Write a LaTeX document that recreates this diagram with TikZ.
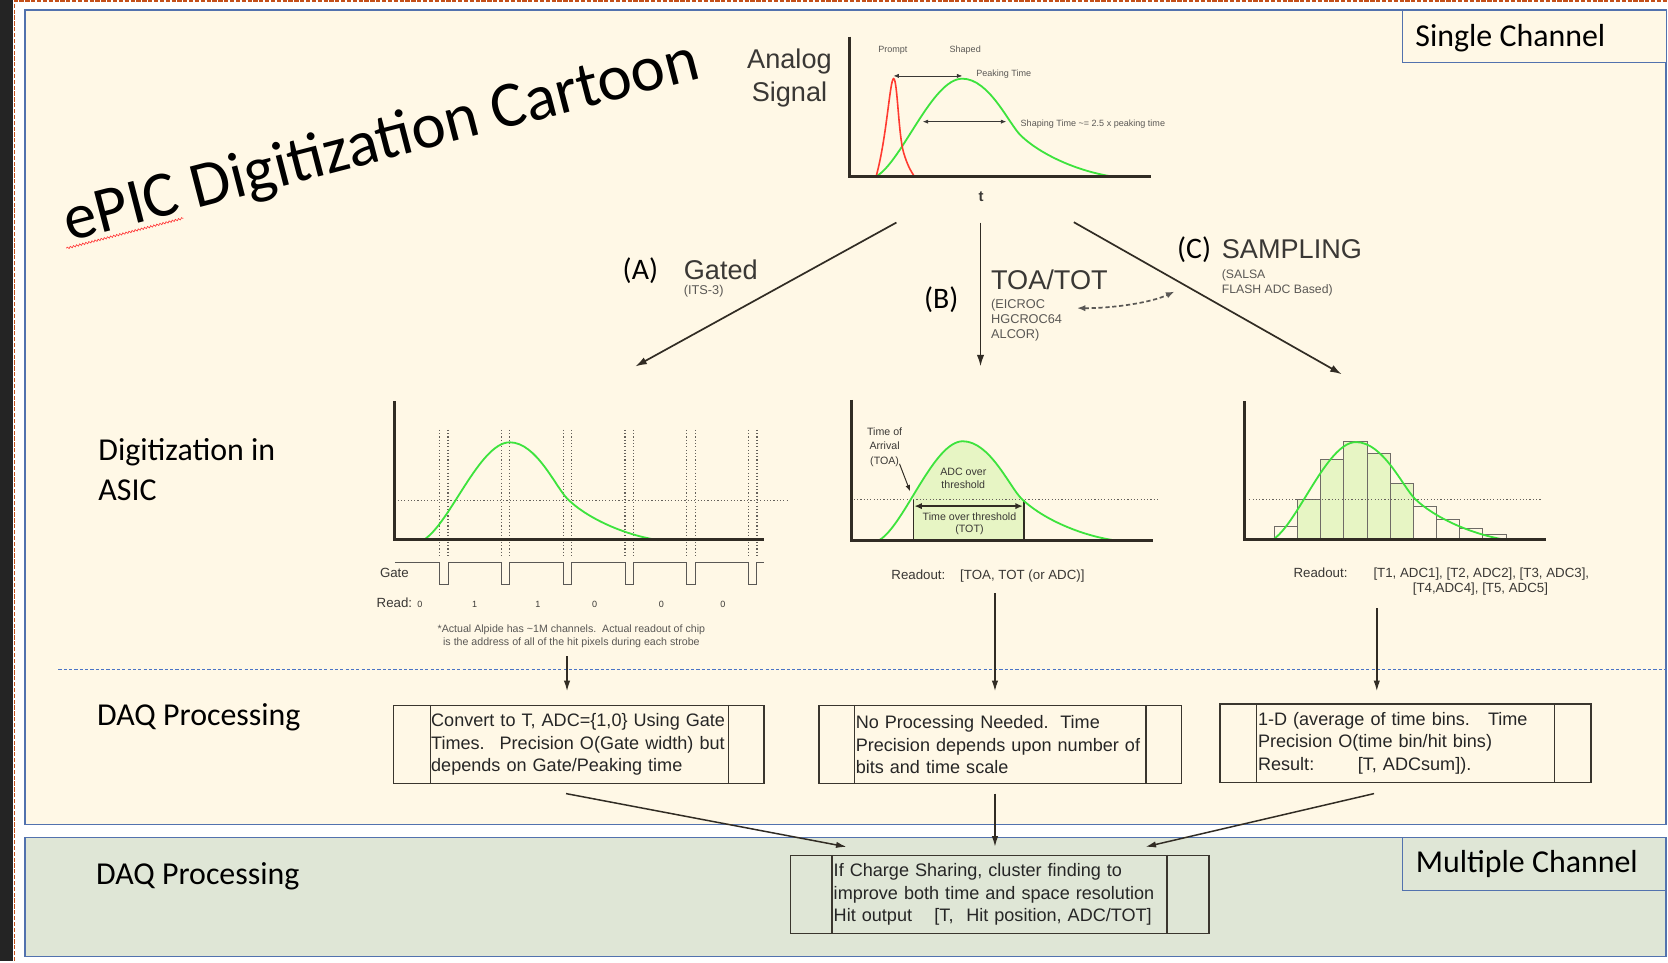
\documentclass[tikz,border=0pt]{standalone}
\usepackage{xcolor}
\usepackage{fontspec}
\setmainfont{Liberation Sans}
\newfontfamily\calibri{Carlito}
\usepackage{tikz}
\usetikzlibrary{arrows.meta,positioning,decorations.pathmorphing}

\definecolor{cream}{HTML}{FFF8E6}
\definecolor{sage}{HTML}{DFE6D6}
\definecolor{panelblue}{HTML}{5272AE}
\definecolor{sepblue}{HTML}{4A74C6}
\definecolor{selorange}{HTML}{C4501A}
\definecolor{darkstrip}{HTML}{242424}
\definecolor{ink}{HTML}{3A3835}
\definecolor{softink}{HTML}{5A5855}
\definecolor{axisdark}{HTML}{312C24}
\definecolor{pulsegreen}{HTML}{3DE33D}
\definecolor{promptred}{HTML}{FF3A30}
\definecolor{binfill}{HTML}{E7F5C4}
\definecolor{boxline}{HTML}{3A362E}

\newcommand{\pulsecurve}[5]{(#1,#4) .. controls ({#1+0.3*(#2-#1)},{#4-0.15*(#4-#5)}) and ({#1+0.65*(#2-#1)},#5) .. (#2,#5) .. controls ({#2+0.18*(#3-#2)},#5) and ({#2+0.31*(#3-#2)},{#4-0.54*(#4-#5)}) .. ({#2+0.39*(#3-#2)},{#4-0.42*(#4-#5)}) .. controls ({#2+0.51*(#3-#2)},{#4-0.24*(#4-#5)}) and ({#2+0.75*(#3-#2)},{#4-0.06*(#4-#5)}) .. (#3,#4)}

\begin{document}
\begin{tikzpicture}[x=1pt,y=-1pt,
  panel/.style={draw=panelblue,line width=1.3pt},
  tagbox/.style={draw=panelblue,line width=1pt},
  tag/.style={anchor=base west,inner sep=0pt,font=\calibri\fontsize{30}{36}\selectfont},
  rowlabel/.style={anchor=base west,inner sep=0pt,font=\calibri\fontsize{30}{36}\selectfont},
  letter/.style={anchor=base west,inner sep=0pt,font=\calibri\fontsize{28}{34}\selectfont},
  method/.style={anchor=base west,inner sep=0pt,text=ink,font=\fontsize{25.5}{31}\selectfont},
  chips/.style={anchor=base west,inner sep=0pt,text=softink,font=\fontsize{12}{14.1}\selectfont},
  axisline/.style={draw=axisdark,line width=2.6pt,line join=miter},
  thresh/.style={draw=axisdark!75,line width=1.1pt,dash pattern=on 1.1pt off 2pt},
  shaped/.style={draw=pulsegreen,line width=1.7pt},
  tinylbl/.style={inner sep=0pt,text=softink,font=\fontsize{8.5}{10}\selectfont},
  smalllbl/.style={inner sep=0pt,text=ink,font=\fontsize{10}{12}\selectfont},
  plottext/.style={anchor=base west,inner sep=0pt,text=ink,font=\fontsize{12.5}{15}\selectfont},
  thinarrow/.style={draw=ink,line width=0.6pt,{Latex[length=5pt,width=4pt]}-{Latex[length=5pt,width=4pt]}},
  bigarrow/.style={draw=axisdark,line width=1.6pt,-{Latex[length=11pt,width=7pt]}},
  downarrow/.style={draw=axisdark,line width=1.4pt,-{Latex[length=10pt,width=6pt]}},
  binline/.style={draw=axisdark!70,line width=0.8pt},
  daqbox/.style={draw=boxline,line width=1.3pt,inner sep=0pt,minimum height=73.3pt,align=left,text=black!85,font=\fontsize{17}{21.2}\selectfont},
]
\fill[white] (0,0) rectangle (1568,904);
\fill[darkstrip] (0,0) rectangle (12.5,904);
\draw[selorange,line width=1.6pt,dash pattern=on 4pt off 1.5pt] (13.6,904) -- (13.6,1.2) -- (1568,1.2);
\draw[panel,fill=cream] (23.5,9.4) rectangle (1567,775.5);
\draw[panel,fill=sage] (23.5,787.4) rectangle (1567,899.6);
\draw[sepblue,line width=0.8pt,dash pattern=on 3pt off 2pt] (55,629.2) -- (1568,629.2);

\draw[tagbox,fill=cream] (1318.8,9.4) rectangle (1567,58.6);
\node[tag] (single) at (1331,43.9) {Single Channel};
\draw[tagbox] (1319.3,787.4) rectangle (1567,837.3);
\node[tag] (multi) at (1331.4,820.3) {Multiple Channel};

\node[anchor=base west,rotate=14.5,inner sep=0pt,font=\calibri\fontsize{61}{72}\selectfont] (title) at (65,227) {ePIC Digitization Cartoon};
\draw[red!80,line width=0.6pt,decorate,decoration={snake,amplitude=0.9pt,segment length=3pt}] (62.5,233.5) -- (172.5,205.2);

\node[rowlabel] (asicA) at (92.4,433.1) {Digitization in};
\node[rowlabel] (asicB) at (92.4,470.6) {ASIC};
\node[rowlabel] (daqUp) at (91.2,682.5) {DAQ Processing};
\node[rowlabel] (daqLow) at (90.2,832) {DAQ Processing};

\node[method,anchor=base] (analog) at (742.5,64.2) {Analog};
\node[method,anchor=base] (signal) at (742.5,95.6) {Signal};
\draw[shaped] \pulsecurve{824}{905}{1046}{166}{74};
\draw[promptred,line width=1.5pt] (824,166) .. controls (834,130) and (837,74) .. (840.5,74) .. controls (844,74) and (845,128) .. (850,144) .. controls (853,154) and (856,160) .. (860,166);
\draw[axisline] (799,34.5) -- (799,166) -- (1082.6,166);
\coordinate (pkL) at (840.4,71.4);
\coordinate (pkR) at (905,71.4);
\coordinate (shL) at (868,114.4);
\coordinate (shR) at (946.3,114.4);
\draw[thinarrow] (pkL) -- (pkR);
\draw[thinarrow] (shL) -- (shR);
\node[tinylbl] (prompt) at (839.8,47.6) {Prompt};
\node[tinylbl] (shapedlbl) at (907.8,47.6) {Shaped};
\node[tinylbl,anchor=west] (peaklbl) at (918,70.2) {Peaking Time};
\node[tinylbl,anchor=west] (shapelbl) at (959.8,116.9) {Shaping Time \textasciitilde= 2.5 x peaking time};
\node[inner sep=0pt,text=ink,font=\bfseries\fontsize{14}{16}\selectfont] (tlbl) at (922.8,184.9) {t};

\coordinate (forkA) at (843.1,209.3);
\coordinate (endA) at (597.4,344.7);
\coordinate (forkB) at (922.2,209.3);
\coordinate (endB) at (922.2,344.7);
\coordinate (forkC) at (1010,209);
\coordinate (endC) at (1262,352);
\draw[bigarrow] (forkA) -- (endA);
\draw[bigarrow] (forkB) -- (endB);
\draw[bigarrow] (forkC) -- (endC);
\node[letter] (letA) at (585.5,263.2) {(A)};
\node[method] (gated) at (643,263.2) {Gated};
\node[chips] (its) at (643,277.3) {(ITS-3)};
\node[letter] (letB) at (869,289.8) {(B)};
\node[method] (toatot) at (932,272.6) {TOA/TOT};
\node[chips,align=left] (eicroc) at (932,318) {(EICROC\\HGCROC64\\ALCOR)};
\node[letter] (letC) at (1107,242.8) {(C)};
\node[method] (sampling) at (1149,243) {SAMPLING};
\node[chips,align=left,font=\fontsize{11.5}{14.1}\selectfont] (salsa) at (1149,275.7) {(SALSA\\FLASH ADC Based)};
\coordinate (dashL) at (1012.9,289.8);
\coordinate (dashR) at (1104.6,274.2);
\draw[softink,line width=1.6pt,dash pattern=on 4pt off 2.5pt,{Latex[length=8pt,width=6pt]}-{Latex[length=8pt,width=6pt]}] (dashL) .. controls (1045,290) and (1082,285) .. (dashR);

\foreach \i in {0,...,5} {
  \draw[thresh] ({413.6+58.1*\i},404.2) -- ++(0,119);
  \draw[thresh] ({421.4+58.1*\i},404.2) -- ++(0,119);
}
\draw[thresh] (374,471) -- (742.6,471);
\draw[shaped] \pulsecurve{398}{479.4}{619}{508}{416};
\draw[axisline] (371.3,377.6) -- (371.3,507.6) -- (719,507.6);
\draw[draw=softink,line width=1pt] (371.3,528.6) foreach \i in {0,...,5} { -- ({413.6+58.1*\i},528.6) -- ++(0,21.4) -- ++(7.8,0) -- ++(0,-21.4) } -- (719,528.6);
\node[plottext] (gatelbl) at (357.2,543) {Gate};
\node[plottext] (readlbl) at (354.1,571.8) {Read:};
\foreach \x/\v [count=\k] in {394.8/0,446.5/1,506/1,559.3/0,622/0,680/0}
  \node[inner sep=0pt,text=ink,anchor=base,font=\fontsize{8.5}{10}\selectfont] (rd\k) at (\x,571.8) {\v};
\node[smalllbl,text=softink,anchor=base] (alpideA) at (537.4,594.7) {*Actual Alpide has \textasciitilde 1M channels.\ \ Actual readout of chip};
\node[smalllbl,text=softink,anchor=base] (alpideB) at (537.4,607.3) {is the address of all of the hit pixels during each strobe};

\begin{scope}
  \clip (859.2,400) rectangle (962.9,507.6);
  \fill[binfill] \pulsecurve{827}{905.5}{1047}{508}{415} -- cycle;
\end{scope}
\draw[axisdark,line width=1.4pt] (859.2,470) -- (859.2,507.6) (962.9,470) -- (962.9,507.6);
\draw[axisdark,line width=1.5pt,{Latex[length=7pt,width=6pt]}-{Latex[length=7pt,width=6pt]}] (860,476) -- (962,476);
\draw[thresh] (803,470) -- (1088.8,470);
\draw[shaped] \pulsecurve{827}{905.5}{1047}{508}{415};
\draw[axisline] (800.6,376) -- (800.6,508.2) -- (1084.2,508.2);
\node[smalllbl,align=center,font=\fontsize{10}{12.5}\selectfont] (adcover) at (906,449.6) {ADC over\\threshold};
\node[smalllbl,align=center,font=\fontsize{10}{11.6}\selectfont] (totlbl) at (911.8,492.4) {Time over threshold\\(TOT)};
\node[smalllbl,align=center,font=\fontsize{10}{13.3}\selectfont] (toalbl) at (832,420.6) {Time of\\Arrival\\(TOA)};
\draw[axisdark,line width=0.9pt,-{Latex[length=6pt,width=4.5pt]}] (846,436.2) -- (856,462.2);
\node[plottext] (roB) at (838.2,544.6) {Readout:\hspace*{14pt}[TOA, TOT (or ADC)]};

\foreach \top/\col [count=\i from 0] in {495.1/cream,470/binfill,432.4/binfill,415.2/binfill,426.8/binfill,454.3/binfill,476.3/cream,488.8/cream,496.6/cream,502.9/cream}
  \draw[binline,fill=\col] ({1198.5+21.8*\i},507.6) rectangle ++(21.8,{\top-507.6});
\draw[thresh] (1175,470) -- (1450.7,470);
\draw[shaped] \pulsecurve{1196.4}{1275.3}{1417.9}{508}{415.8};
\draw[axisline] (1170.3,377.6) -- (1170.3,507.6) -- (1453.9,507.6);
\node[plottext] (roClbl) at (1216.4,542.7) {Readout:};
\node[plottext] (roCa) at (1291.6,542.7) {[T1, ADC1], [T2, ADC2], [T3, ADC3],};
\node[plottext] (roCb) at (1328.6,557.7) {[T4,ADC4], [T5, ADC5]};

\node[daqbox,minimum width=348.2pt,text width=277.7pt] (daqA) at (544.4,700.35) {Convert to T, ADC=\{1,0\} Using Gate\\Times.\hspace*{14pt}Precision O(Gate width) but\\depends on Gate/Peaking time};
\node[daqbox,minimum width=340.8pt,text width=271.7pt] (daqB) at (940.7,700.35) {No Processing Needed.\hspace*{11pt}Time\\Precision depends upon number of\\bits and time scale};
\node[daqbox,minimum width=348.7pt,minimum height=73.7pt,text width=277.5pt] (daqC) at (1321.95,698.95) {1-D (average of time bins.\hspace*{17pt}Time\\Precision O(time bin/hit bins)\\Result:\hspace*{41pt}[T, ADCsum]).};
\node[daqbox,minimum width=393.8pt,text width=312.3pt] (hitbox) at (940.3,841.35) {If Charge Sharing, cluster finding to\\improve both time and space resolution\\Hit output\hspace*{21pt}[T,\hspace*{12pt}Hit position, ADC/TOT]};
\foreach \b/\l/\r in {daqA/35/34.1,daqB/33.8/33.8,daqC/34.9/34.8,hitbox/39.8/40.1} {
  \draw[boxline,line width=1.3pt] ([xshift=\l pt]\b.north west) -- ([xshift=\l pt]\b.south west);
  \draw[boxline,line width=1.3pt] ([xshift=-\r pt]\b.north east) -- ([xshift=-\r pt]\b.south east);
}

\coordinate (roAout) at (533.3,617);
\coordinate (inA) at (533.3,650.2);
\coordinate (roBout) at (935.8,558);
\coordinate (inB) at (935.8,650.2);
\coordinate (roCout) at (1294.9,572);
\coordinate (inC) at (1294.9,650.2);
\draw[downarrow] (roAout) -- (inA);
\draw[downarrow] (roBout) -- (inB);
\draw[downarrow] (roCout) -- (inC);

\coordinate (outA) at (532.4,746.4);
\coordinate (hitA) at (796.3,796.5);
\coordinate (outB) at (935.8,746.4);
\coordinate (hitB) at (935.8,796.5);
\coordinate (outC) at (1292.3,746.4);
\coordinate (hitC) at (1077.3,796.5);
\draw[downarrow] (outA) -- (hitA);
\draw[downarrow] (outB) -- (hitB);
\draw[downarrow] (outC) -- (hitC);
\end{tikzpicture}
\end{document}
